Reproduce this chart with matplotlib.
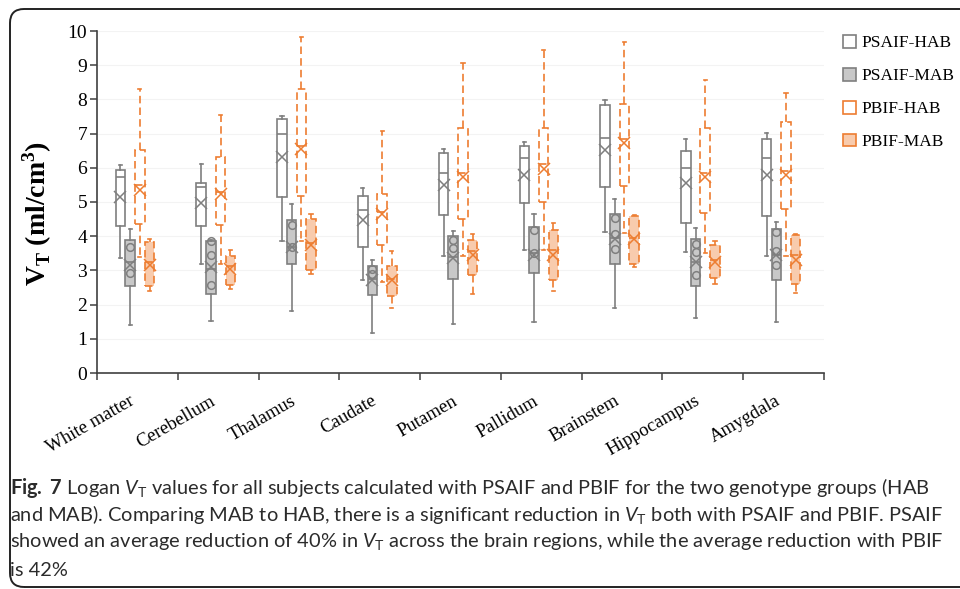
import matplotlib
matplotlib.use('Agg')
import matplotlib.pyplot as plt
import numpy as np
from matplotlib.patches import Patch, FancyBboxPatch
from matplotlib.transforms import IdentityTransform

# ---------------- data ----------------
regions = ["White matter", "Cerebellum", "Thalamus", "Caudate", "Putamen",
           "Pallidum", "Brainstem", "Hippocampus", "Amygdala"]
series_names = ["PSAIF-HAB", "PSAIF-MAB", "PBIF-HAB", "PBIF-MAB"]

psaif_hab_whislo = [3.37, 3.20, 3.85, 2.73, 3.42, 3.59, 4.12, 3.54, 3.41]
psaif_hab_q1     = [4.29, 4.29, 5.15, 3.68, 4.61, 4.97, 5.44, 4.40, 4.58]
psaif_hab_med    = [5.73, 5.44, 6.98, 4.76, 5.86, 6.29, 6.88, 6.00, 6.30]
psaif_hab_q3     = [5.95, 5.56, 7.42, 5.19, 6.44, 6.64, 7.83, 6.48, 6.85]
psaif_hab_whishi = [6.07, 6.10, 7.51, 5.41, 6.56, 6.75, 7.99, 6.85, 7.03]
psaif_hab_mean   = [5.15, 4.97, 6.32, 4.48, 5.49, 5.78, 6.53, 5.56, 5.78]
psaif_hab_points = [[], [], [], [], [], [], [], [], []]

psaif_mab_whislo = [1.39, 1.52, 1.81, 1.18, 1.44, 1.49, 1.91, 1.62, 1.49]
psaif_mab_q1     = [2.54, 2.30, 3.20, 2.29, 2.76, 2.92, 3.20, 2.54, 2.71]
psaif_mab_med    = [3.25, 3.05, 3.68, 2.75, 3.40, 3.50, 3.95, 3.25, 3.45]
psaif_mab_q3     = [3.90, 3.86, 4.46, 3.13, 4.00, 4.27, 4.66, 3.91, 4.20]
psaif_mab_whishi = [4.22, 3.88, 4.93, 3.31, 4.15, 4.64, 5.08, 4.25, 4.42]
psaif_mab_mean   = [3.15, 3.10, 3.68, 2.71, 3.37, 3.44, 3.93, 3.25, 3.44]
psaif_mab_points = [[3.68, 2.92], [3.86, 3.44, 2.58], [4.32, 3.68], [3.05, 2.90],
                    [3.90, 3.65], [4.17, 3.52], [4.53, 4.05, 3.63],
                    [3.78, 3.54, 2.86], [4.12, 3.57, 3.15]]

pbif_hab_whislo = [3.39, 3.20, 3.86, 2.66, 3.42, 3.59, 4.09, 3.51, 3.41]
pbif_hab_q1     = [4.35, 4.32, 5.18, 3.75, 4.51, 5.00, 5.46, 4.69, 4.80]
pbif_hab_med    = [5.50, 5.30, 6.65, 4.70, 5.85, 6.10, 6.85, 5.85, 5.90]
pbif_hab_q3     = [6.53, 6.32, 8.31, 5.22, 7.17, 7.16, 7.88, 7.16, 7.34]
pbif_hab_whishi = [8.31, 7.53, 9.81, 7.08, 9.05, 9.43, 9.68, 8.56, 8.19]
pbif_hab_mean   = [5.34, 5.24, 6.56, 4.66, 5.73, 5.97, 6.73, 5.73, 5.78]
pbif_hab_points = [[], [], [], [], [], [], [], [], []]

pbif_mab_whislo = [2.40, 2.47, 2.89, 1.91, 2.30, 2.39, 3.10, 2.61, 2.34]
pbif_mab_q1     = [2.53, 2.56, 3.00, 2.26, 2.86, 2.71, 3.20, 2.78, 2.61]
pbif_mab_med    = [3.25, 3.12, 3.80, 2.75, 3.56, 3.59, 3.96, 3.30, 3.44]
pbif_mab_q3     = [3.83, 3.41, 4.49, 3.13, 3.88, 4.19, 4.59, 3.73, 4.04]
pbif_mab_whishi = [3.93, 3.59, 4.64, 3.57, 4.07, 4.40, 4.63, 3.85, 4.07]
pbif_mab_mean   = [3.15, 3.05, 3.73, 2.71, 3.44, 3.44, 3.93, 3.25, 3.31]
pbif_mab_points = [[], [], [], [], [], [], [], [], []]

yticks = [0, 1, 2, 3, 4, 5, 6, 7, 8, 9, 10]

caption_lines = [
    r"$\mathsf{Fig.}$ $\mathsf{7}$ Logan $V_{\mathrm{T}}$ values for all subjects calculated with PSAIF and PBIF for the two genotype groups (HAB",
    r"and MAB). Comparing MAB to HAB, there is a significant reduction in $V_{\mathrm{T}}$ both with PSAIF and PBIF. PSAIF",
    r"showed an average reduction of 40% in $V_{\mathrm{T}}$ across the brain regions, while the average reduction with PBIF",
    r"is 42%",
]

# ---------------- style ----------------
plt.rcParams['mathtext.fontset'] = 'custom'
plt.rcParams['mathtext.rm'] = 'Lato'
plt.rcParams['mathtext.it'] = 'Lato:italic'
plt.rcParams['mathtext.sf'] = 'Lato:bold'
plt.rcParams['mathtext.bf'] = 'Liberation Serif:bold'

GRAY = '#7f7f7f'
ORANGE = '#ED7D31'
DASH = (0, (4.5, 2.5))
styles = [
    dict(face='white', edge=GRAY, ls='-'),
    dict(face='#c8c8c8', edge=GRAY, ls='-'),
    dict(face='white', edge=ORANGE, ls=DASH),
    dict(face='#F8CBAD', edge=ORANGE, ls=DASH),
]

all_series = [
    (psaif_hab_whislo, psaif_hab_q1, psaif_hab_med, psaif_hab_q3, psaif_hab_whishi, psaif_hab_mean, psaif_hab_points),
    (psaif_mab_whislo, psaif_mab_q1, psaif_mab_med, psaif_mab_q3, psaif_mab_whishi, psaif_mab_mean, psaif_mab_points),
    (pbif_hab_whislo, pbif_hab_q1, pbif_hab_med, pbif_hab_q3, pbif_hab_whishi, pbif_hab_mean, pbif_hab_points),
    (pbif_mab_whislo, pbif_mab_q1, pbif_mab_med, pbif_mab_q3, pbif_mab_whishi, pbif_mab_mean, pbif_mab_points),
]
offsets = [-0.21, -0.09, 0.03, 0.15]
box_w = 0.118

W, H = 960, 589
fig = plt.figure(figsize=(W / 100, H / 100), dpi=100)
ax = fig.add_axes([97 / W, 1 - 373 / H, (824 - 97) / W, (373 - 31) / H])

x = np.arange(len(regions))
for k, (wlo, q1, med, q3, whi, mean, pts) in enumerate(all_series):
    st = styles[k]
    stats = []
    for i in range(len(regions)):
        stats.append(dict(whislo=wlo[i], q1=q1[i], med=med[i], q3=q3[i],
                          whishi=whi[i], mean=mean[i], fliers=np.array(pts[i])))
    ax.bxp(stats, positions=x + offsets[k], widths=box_w, capwidths=0.04,
           patch_artist=True, showmeans=True, showfliers=True, manage_ticks=False,
           boxprops=dict(facecolor=st['face'], edgecolor=st['edge'], linewidth=1.2, linestyle=st['ls']),
           whiskerprops=dict(color=st['edge'], linewidth=1.2, linestyle=st['ls']),
           capprops=dict(color=st['edge'], linewidth=1.2),
           medianprops=dict(color=st['edge'], linewidth=1.2, linestyle=st['ls']),
           meanprops=dict(marker='x', markeredgecolor=st['edge'], markersize=9, markeredgewidth=1.1),
           flierprops=dict(marker='o', markerfacecolor='none', markeredgecolor=st['edge'],
                           markersize=5.5, markeredgewidth=1.1),
           zorder=3)

ax.set_xlim(-0.5, len(regions) - 0.5)
ax.set_ylim(0, 10)
ax.set_yticks(yticks)
ax.set_yticklabels([str(v) for v in yticks], fontfamily='Liberation Serif', fontsize=14)
ax.set_xticks(x)
ax.set_xticklabels(regions, fontfamily='Liberation Serif', fontsize=13.5, rotation=30, ha='right')
ax.set_xticks(np.arange(len(regions) + 1) - 0.5, minor=True)
ax.tick_params(axis='x', which='major', length=0, pad=14)
ax.tick_params(axis='x', which='minor', length=5, width=1.1, color='#404040', direction='out')
ax.tick_params(axis='y', length=5, width=1.1, color='#404040', direction='out', pad=2)
for s in ['top', 'right']:
    ax.spines[s].set_visible(False)
for s in ['left', 'bottom']:
    ax.spines[s].set_color('#404040')
    ax.spines[s].set_linewidth(1.2)
ax.yaxis.grid(True, color='#f3f3f3', linewidth=0.8)
ax.set_axisbelow(True)

ax.set_ylabel(r'$\mathbf{V}_{\mathbf{T}}$ (ml/cm$^{\mathbf{3}}$)', fontfamily='Liberation Serif',
              fontweight='bold', fontsize=20, va='center')
ax.yaxis.set_label_coords(-0.082, 0.465)

handles = [Patch(facecolor=st['face'], edgecolor=st['edge'], linewidth=1.2) for st in styles]
fig.legend(handles, series_names, loc='upper left', bbox_to_anchor=(843 / W, 1 - 35 / H),
           frameon=False, prop=dict(family='Liberation Serif', size=12.5),
           handlelength=0.75, handleheight=0.75, handletextpad=0.3, labelspacing=0.95,
           borderaxespad=0, borderpad=0)

# caption
cap_y = [488, 515, 542, 570]
texts = []
for line, yy in zip(caption_lines, cap_y):
    t = fig.text(10 / W, 1 - yy / H, line, fontfamily='Lato', fontsize=13,
                 color='#2b2b2b', ha='left', va='center')
    texts.append(t)
fig.canvas.draw()
r = fig.canvas.get_renderer()
wid = texts[2].get_window_extent(r).width
fs = 13 * (932 / wid)
for t in texts:
    t.set_fontsize(fs)

# frame
frame = FancyBboxPatch((10, 2), 980, H - 2 - 9, boxstyle='round,pad=0,rounding_size=14',
                       transform=IdentityTransform(), facecolor='none', edgecolor='#222222',
                       linewidth=1.4)
fig.patches.append(frame)

fig.savefig('out.png', dpi=100)
